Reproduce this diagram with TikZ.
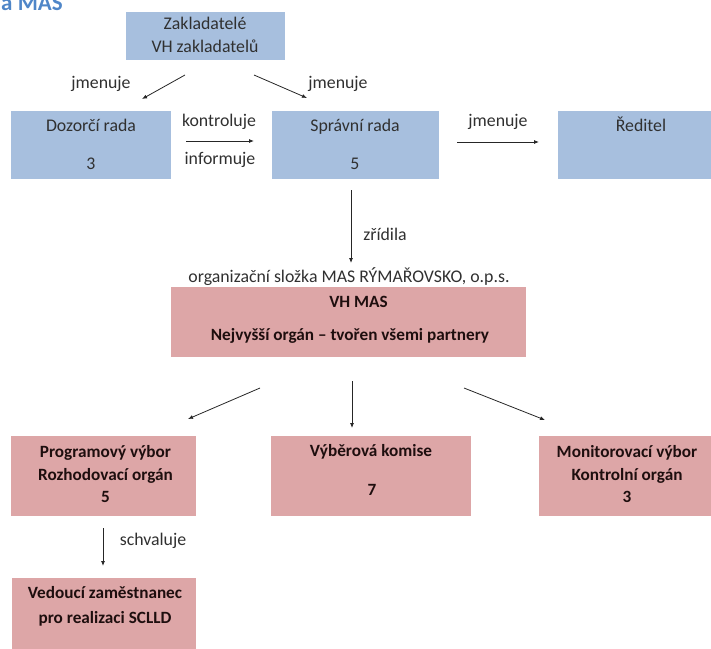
\documentclass[tikz,border=0pt]{standalone}
\usepackage{fontspec}
\setmainfont{Carlito}
\usetikzlibrary{arrows.meta}
\definecolor{boxblue}{RGB}{167,191,222}
\definecolor{boxpink}{RGB}{221,166,167}
\definecolor{txtgray}{RGB}{48,48,48}
\definecolor{txtdark}{RGB}{30,14,14}
\definecolor{headblue}{RGB}{79,134,200}
\tikzset{
  bluebox/.style={rectangle, fill=boxblue, draw=none, inner sep=0pt},
  pinkbox/.style={rectangle, fill=boxpink, draw=none, inner sep=0pt},
  lbl/.style={anchor=base, inner sep=0pt, text=txtgray, font=\fontsize{17.8}{20}\selectfont},
  blbl/.style={anchor=base, inner sep=0pt, text=txtdark, font=\fontsize{17.2}{20}\selectfont\bfseries},
  arr/.style={-{Latex[length=5pt,width=4pt]}, line width=0.8pt, draw=black!85},
}
\begin{document}
\begin{tikzpicture}[x=1pt,y=-1pt]
\useasboundingbox (0,0) rectangle (711,648);
% heading (cut off at the top edge, as in the reference)
\node[anchor=base west, inner sep=0pt, text=headblue, font=\fontsize{23}{26}\selectfont\bfseries] (head) at (1,10) {a MAS};
% boxes
\node[bluebox, minimum width=159pt, minimum height=48pt] (zak) at (205.5,36) {};
\node[bluebox, minimum width=160pt, minimum height=68pt] (doz) at (91,145) {};
\node[bluebox, minimum width=167pt, minimum height=68pt] (spr) at (355.5,145) {};
\node[bluebox, minimum width=154pt, minimum height=68pt] (red) at (635,145) {};
\node[pinkbox, minimum width=355pt, minimum height=70pt] (vhmas) at (348.5,322) {};
\node[pinkbox, minimum width=185pt, minimum height=80pt] (prog) at (103.5,476) {};
\node[pinkbox, minimum width=200pt, minimum height=80pt] (vyb) at (371,476) {};
\node[pinkbox, minimum width=173pt, minimum height=80pt] (mon) at (625.5,476) {};
\node[pinkbox, minimum width=184pt, minimum height=72pt] (ved) at (104,614) {};
% texts in blue boxes
\node[lbl] (zakA) at (205,29) {Zakladatelé};
\node[lbl] (zakB) at (205,52.5) {VH zakladatelů};
\node[lbl] (dozA) at (91,131) {Dozorčí rada};
\node[lbl] (dozB) at (91,169) {3};
\node[lbl] (sprA) at (355,131) {Správní rada};
\node[lbl] (sprB) at (355,169) {5};
\node[lbl] (redA) at (641,131) {Ředitel};
% labels
\node[lbl] (jm1) at (101,88) {jmenuje};
\node[lbl] (jm2) at (338,88) {jmenuje};
\node[lbl] (kon) at (219,126) {kontroluje};
\node[lbl] (inf) at (220,164) {informuje};
\node[lbl] (jm3) at (498,126) {jmenuje};
\node[lbl] (zri) at (385,240) {zřídila};
\node[lbl] (org) at (349,282) {organizační složka MAS RÝMAŘOVSKO, o.p.s.};
\node[lbl] (sch) at (153,545) {schvaluje};
% texts in pink boxes
\node[blbl] (vhA) at (358.5,307) {VH MAS};
\node[blbl] (vhB) at (350,340) {Nejvyšší orgán – tvořen všemi partnery};
\node[blbl] (progA) at (105.5,457) {Programový výbor};
\node[blbl] (progB) at (105.5,480.5) {Rozhodovací orgán};
\node[blbl] (progC) at (105.5,502) {5};
\node[blbl] (vybA) at (371,456) {Výběrová komise};
\node[blbl] (vybB) at (372,495) {7};
\node[blbl] (monA) at (627,457) {Monitorovací výbor};
\node[blbl] (monB) at (627,480.5) {Kontrolní orgán};
\node[blbl] (monC) at (627,502) {3};
\node[blbl] (vedA) at (105,598) {Vedoucí zaměstnanec};
\node[blbl] (vedB) at (105,623) {pro realizaci SCLLD};
% connector end points
\coordinate (c1s) at (185,75);  \coordinate (c1e) at (142,99);
\coordinate (c2s) at (254,75);  \coordinate (c2e) at (307,98);
\coordinate (c3s) at (186,141); \coordinate (c3e) at (254,141);
\coordinate (c4s) at (457,142); \coordinate (c4e) at (539,142);
\coordinate (c5s) at (351,190); \coordinate (c5e) at (351,263);
\coordinate (c6s) at (260,388); \coordinate (c6e) at (188,419);
\coordinate (c7s) at (352,381); \coordinate (c7e) at (352,428);
\coordinate (c8s) at (464,388); \coordinate (c8e) at (545,420);
\coordinate (c9s) at (103,528); \coordinate (c9e) at (103,566);
% connectors
\draw[arr] (c1s) -- (c1e);
\draw[arr] (c2s) -- (c2e);
\draw[arr] (c3s) -- (c3e);
\draw[arr] (c4s) -- (c4e);
\draw[arr] (c5s) -- (c5e);
\draw[arr] (c6s) -- (c6e);
\draw[arr] (c7s) -- (c7e);
\draw[arr] (c8s) -- (c8e);
\draw[arr] (c9s) -- (c9e);
\end{tikzpicture}
\end{document}
